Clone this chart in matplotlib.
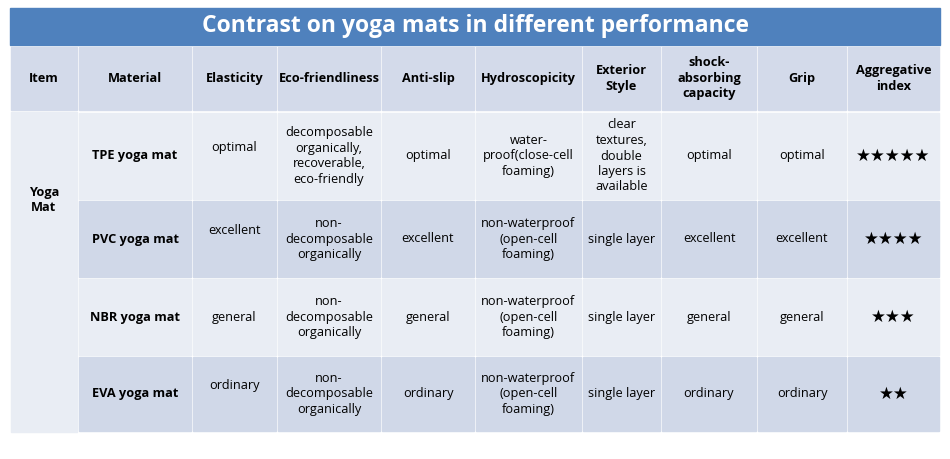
import matplotlib
matplotlib.use("Agg")
import matplotlib.pyplot as plt
from matplotlib.patches import Rectangle

title = "Contrast on yoga mats in different performance"
headers = ["Item", "Material", "Elasticity", "Eco-friendliness", "Anti-slip", "Hydroscopicity",
           "Exterior\nStyle", "shock-\nabsorbing\ncapacity", "Grip", "Aggregative\nindex"]
item = "Yoga\nMat"
materials = ["TPE yoga mat", "PVC yoga mat", "NBR yoga mat", "EVA yoga mat"]
elasticity = ["optimal", "excellent", "general", "ordinary"]
eco = ["decomposable\norganically,\nrecoverable,\neco-friendly", "non-\ndecomposable\norganically",
       "non-\ndecomposable\norganically", "non-\ndecomposable\norganically"]
antislip = ["optimal", "excellent", "general", "ordinary"]
hydro = ["water-\nproof(close-cell\nfoaming)", "non-waterproof\n(open-cell\nfoaming)",
         "non-waterproof\n(open-cell\nfoaming)", "non-waterproof\n(open-cell\nfoaming)"]
exterior = ["clear\ntextures,\ndouble\nlayers is\navailable", "single layer", "single layer", "single layer"]
shock = ["optimal", "excellent", "general", "ordinary"]
grip = ["optimal", "excellent", "general", "ordinary"]
stars = [5, 4, 3, 2]
# vertical offsets (px) for text that sits above center in the reference
elast_off = [-8, -8, 0, -8]

col_edges = [10, 78, 192, 277, 381, 475, 582, 661, 757, 847, 940]
row_edges = [112, 200, 278, 356, 432]
header_top, header_bot = 47, 110

fig = plt.figure(figsize=(9.5, 4.59), dpi=100)
ax = fig.add_axes([0, 0, 1, 1])
ax.set_xlim(0, 950); ax.set_ylim(459, 0); ax.axis("off")

FONT = "Open Sans"
fs = 9.2
ax.add_patch(Rectangle((10, 8), 930, 37, color="#4f81bd"))
ax.text(475, 26.5, title, ha="center", va="center", color="white", fontsize=16.5,
        fontweight="bold", family=FONT)

light, dark, head = "#e9edf4", "#d0d8e8", "#d3daea"
for i in range(10):
    x0, x1 = col_edges[i], col_edges[i+1]
    ax.add_patch(Rectangle((x0+1, header_top), x1-x0-2, header_bot-header_top, color=head))
    ax.text((x0+x1)/2, (header_top+header_bot)/2, headers[i], ha="center", va="center",
            fontsize=fs, fontweight="bold", family=FONT, linespacing=1.25)

ax.add_patch(Rectangle((11, row_edges[0]), col_edges[1]-12, row_edges[-1]-row_edges[0], color=light))
ax.text((col_edges[0]+col_edges[1])/2, 200, item, ha="center", va="center", fontsize=fs,
        fontweight="bold", family=FONT)

cols = [materials, elasticity, eco, antislip, hydro, exterior, shock, grip]
for r in range(4):
    y0, y1 = row_edges[r], row_edges[r+1]
    c = light if r % 2 == 0 else dark
    yc = (y0+y1)/2
    for j in range(1, 10):
        x0, x1 = col_edges[j], col_edges[j+1]
        ax.add_patch(Rectangle((x0+1, y0+1), x1-x0-2, y1-y0-2, color=c))
        xc = (x0+x1)/2
        if j == 9:
            ax.text(xc, yc, "★"*stars[r], ha="center", va="center", fontsize=12, family="DejaVu Sans")
        else:
            txt = cols[j-1][r]
            off = elast_off[r] if j == 2 else 0
            ax.text(xc, yc+off, txt, ha="center", va="center", fontsize=fs, family=FONT,
                    fontweight="bold" if j == 1 else "normal", linespacing=1.25)

fig.savefig("out.png", dpi=100, facecolor="white")
